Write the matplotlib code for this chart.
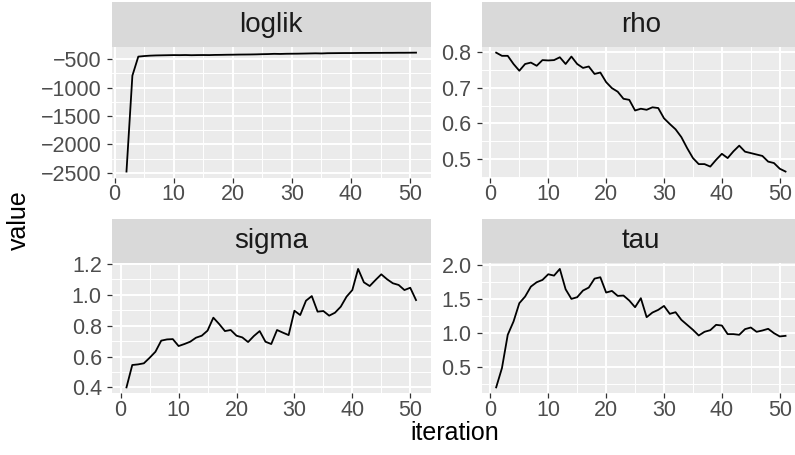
import numpy as np
import matplotlib
matplotlib.use("Agg")
import matplotlib.pyplot as plt

plt.rcParams['font.family'] = ['Liberation Sans', 'DejaVu Sans']

# traces
loglik_iter = list(range(2, 52))
loglik = [-2480, -790, -455, -445, -438, -434, -432, -430, -428, -429,
          -427, -430, -428, -427, -428, -425, -424, -422, -421, -419,
          -418, -417, -415, -412, -410, -406, -408, -405, -404, -403,
          -401, -399, -397, -399, -395, -394, -393, -392, -392, -391,
          -390, -390, -389, -389, -388, -388, -387, -387, -386, -385]

iters = list(range(1, 52))
rho = [0.799, 0.790, 0.790, 0.767, 0.748, 0.767, 0.771, 0.762, 0.778, 0.777,
       0.778, 0.786, 0.767, 0.788, 0.767, 0.756, 0.760, 0.739, 0.743, 0.716,
       0.699, 0.689, 0.669, 0.666, 0.636, 0.641, 0.638, 0.645, 0.643, 0.614,
       0.598, 0.583, 0.561, 0.530, 0.502, 0.485, 0.485, 0.478, 0.497, 0.514,
       0.502, 0.521, 0.537, 0.520, 0.516, 0.512, 0.508, 0.492, 0.488, 0.472,
       0.464]
sigma = [0.400, 0.545, 0.549, 0.556, 0.592, 0.631, 0.703, 0.711, 0.713, 0.668,
         0.681, 0.696, 0.722, 0.735, 0.768, 0.852, 0.811, 0.765, 0.772, 0.735,
         0.724, 0.694, 0.733, 0.765, 0.696, 0.681, 0.772, 0.755, 0.739, 0.897,
         0.869, 0.962, 0.992, 0.891, 0.895, 0.865, 0.884, 0.923, 0.988, 1.031,
         1.168, 1.081, 1.057, 1.096, 1.133, 1.101, 1.075, 1.064, 1.031, 1.046,
         0.966]
tau = [0.207, 0.490, 0.977, 1.172, 1.440, 1.537, 1.683, 1.747, 1.781, 1.864,
       1.844, 1.942, 1.644, 1.503, 1.528, 1.625, 1.669, 1.800, 1.820, 1.596,
       1.620, 1.547, 1.552, 1.479, 1.381, 1.513, 1.235, 1.303, 1.342, 1.400,
       1.284, 1.308, 1.196, 1.123, 1.050, 0.967, 1.021, 1.045, 1.123, 1.113,
       0.987, 0.987, 0.977, 1.060, 1.084, 1.021, 1.040, 1.065, 1.001, 0.953,
       0.962]

x_ticks = [0, 10, 20, 30, 40, 50]
panels = [
    ("loglik", loglik_iter, loglik, [-2500, -2000, -1500, -1000, -500], "{:.0f}"),
    ("rho", iters, rho, [0.5, 0.6, 0.7, 0.8], "{:.1f}"),
    ("sigma", iters, sigma, [0.4, 0.6, 0.8, 1.0, 1.2], "{:.1f}"),
    ("tau", iters, tau, [0.5, 1.0, 1.5, 2.0], "{:.1f}"),
]

W, H = 795, 455
fig = plt.figure(figsize=(W / 100, H / 100), dpi=100)


def rect(x0, x1, ytop, ybot):
    return [x0 / W, 1 - ybot / H, (x1 - x0) / W, (ybot - ytop) / H]


cols = [(112, 430.5), (481.7, 800)]
rows = [(2.3, 46.7, 177.5), (218.5, 263, 393.3)]


def minor_between(ticks, lo, hi):
    step = ticks[1] - ticks[0]
    ext = [ticks[0] - step] + list(ticks) + [ticks[-1] + step]
    mids = [(a + b) / 2 for a, b in zip(ext[:-1], ext[1:])]
    return [m for m in mids if lo <= m <= hi]


for k, (name, xs, ys, yt, fmt) in enumerate(panels):
    r, c = divmod(k, 2)
    x0, x1 = cols[c]
    s_top, p_top, p_bot = rows[r]

    sax = fig.add_axes(rect(x0, x1, s_top, p_top))
    sax.set_facecolor("#D9D9D9")
    sax.set_xticks([])
    sax.set_yticks([])
    for sp in sax.spines.values():
        sp.set_visible(False)
    sax.text(0.5, 0.5, name, ha="center", va="center", fontsize=20,
             color="#1A1A1A", transform=sax.transAxes)

    ax = fig.add_axes(rect(x0, x1, p_top, p_bot))
    ax.set_facecolor("#EBEBEB")
    for sp in ax.spines.values():
        sp.set_visible(False)

    xlo, xhi = min(xs), max(xs)
    xp = 0.05 * (xhi - xlo)
    ylo, yhi = min(ys), max(ys)
    yp = 0.05 * (yhi - ylo)
    ax.set_xlim(xlo - xp, xhi + xp)
    ax.set_ylim(ylo - yp, yhi + yp)

    ax.set_xticks(x_ticks)
    ax.set_xticks(minor_between(x_ticks, xlo - xp, xhi + xp), minor=True)
    ax.set_yticks(yt)
    ax.set_yticks(minor_between(yt, ylo - yp, yhi + yp), minor=True)
    ax.set_yticklabels([fmt.format(v).replace("-", "\u2212") for v in yt])

    ax.grid(which="major", color="white", linewidth=1.4)
    ax.grid(which="minor", color="white", linewidth=0.7)
    ax.set_axisbelow(True)
    ax.tick_params(which="major", length=3.3, width=0.9, color="#333333",
                   labelsize=15.5, labelcolor="#4D4D4D")
    ax.tick_params(axis="x", pad=1.5)
    ax.tick_params(axis="y", pad=4)
    ax.tick_params(which="minor", length=0)

    ax.plot(xs, ys, color="black", linewidth=1.3)

fig.text(455 / W, 1 - 433 / H, "iteration", ha="center", va="center", fontsize=18)
fig.text(19 / W, 1 - 220 / H, "value", ha="center", va="center", rotation=90, fontsize=18)

fig.savefig("out.png", dpi=100)
